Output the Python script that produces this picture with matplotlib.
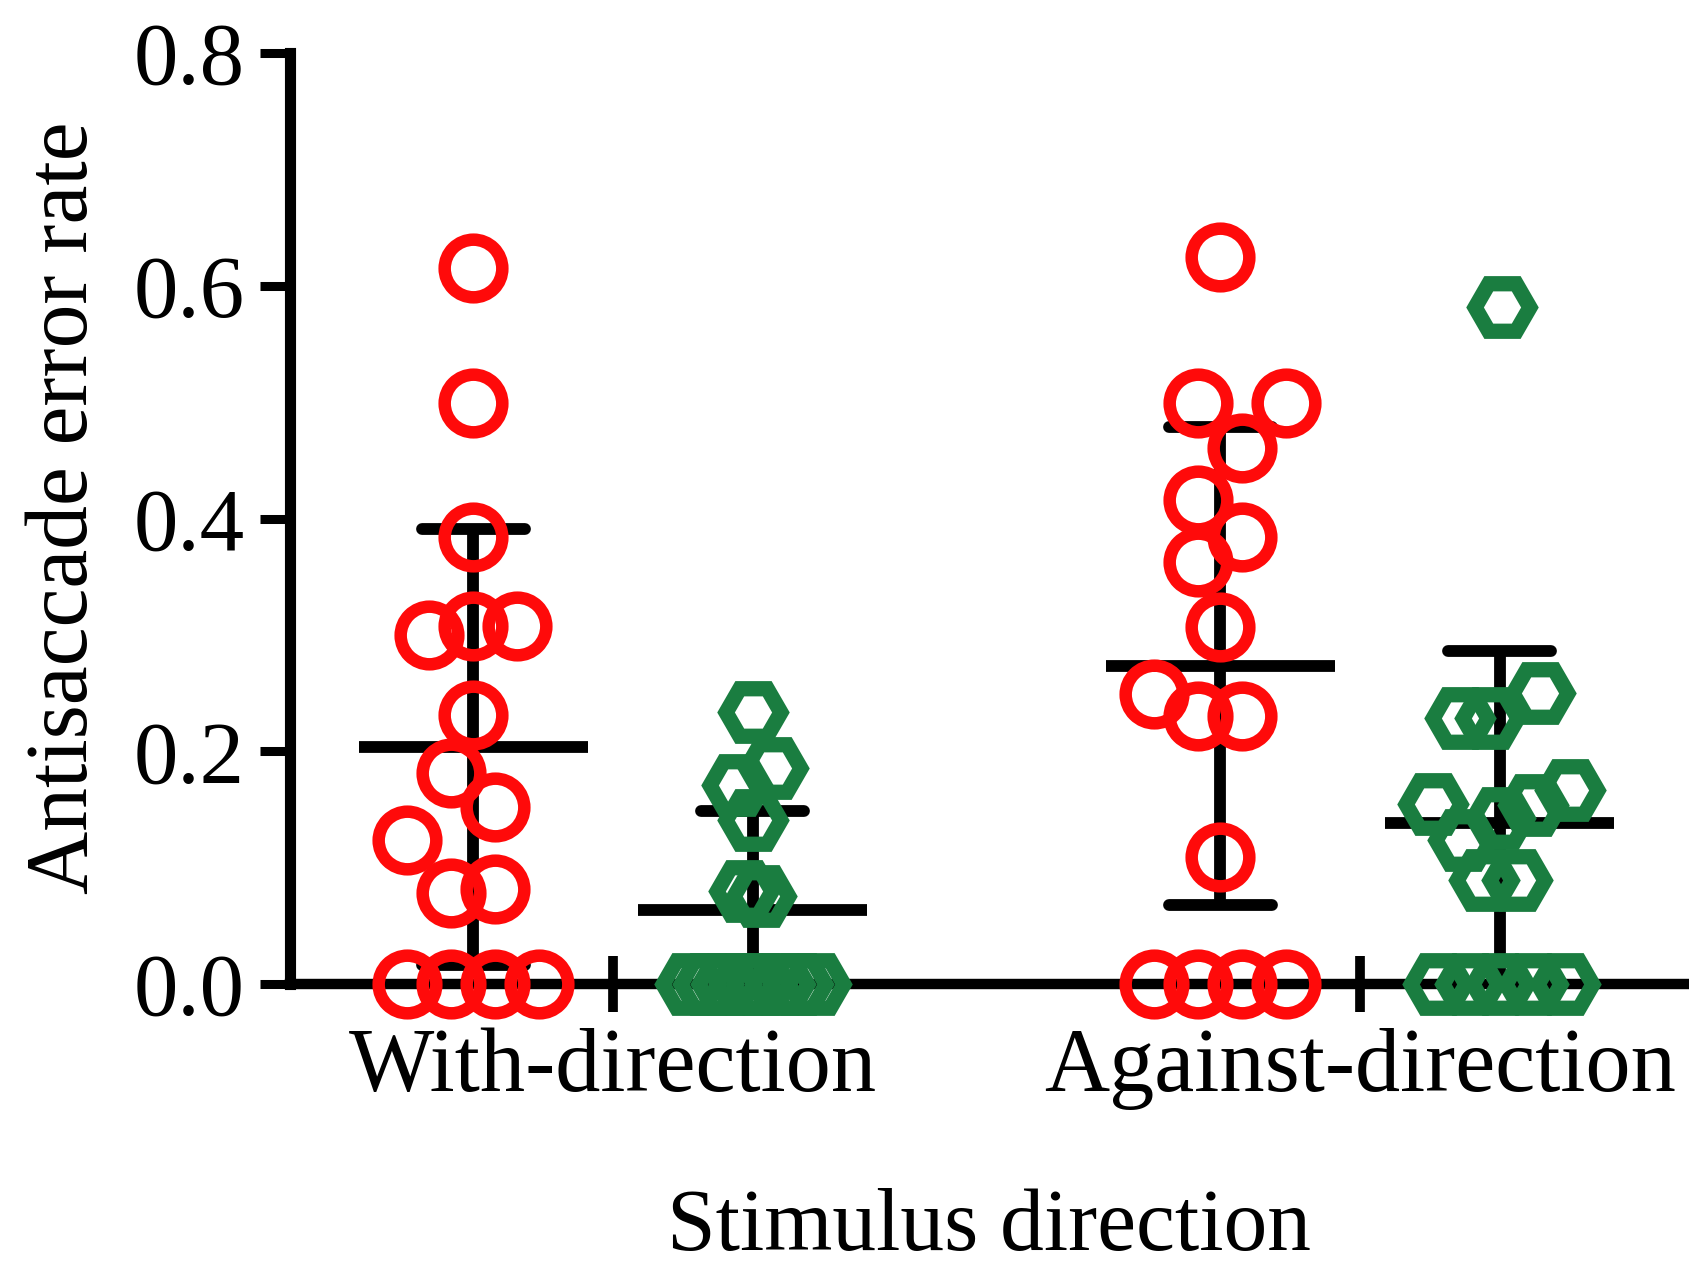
import numpy as np
import matplotlib
matplotlib.use("Agg")
import matplotlib.pyplot as plt
from matplotlib.ticker import FormatStrFormatter

plt.rcParams['font.family'] = ['Liberation Serif', 'DejaVu Serif']

# categories and group values
categories = ['With-direction', 'Against-direction']

red_with = [0.615, 0.499, 0.384, 0.300, 0.308, 0.308, 0.231, 0.181,
            0.152, 0.124, 0.078, 0.082, 0.0, 0.0, 0.0, 0.0]
red_against = [0.625, 0.499, 0.499, 0.461, 0.416, 0.384, 0.363, 0.307,
               0.249, 0.230, 0.230, 0.109, 0.0, 0.0, 0.0, 0.0]
green_with = [0.234, 0.186, 0.171, 0.141, 0.080, 0.076,
              0.0, 0.0, 0.0, 0.0, 0.0, 0.0, 0.0, 0.0]
green_against = [0.582, 0.250, 0.229, 0.229, 0.167, 0.155, 0.154, 0.143,
                 0.124, 0.089, 0.089, 0.0, 0.0, 0.0, 0.0, 0.0]

# scatter spread of the points inside each column (in point-widths)
red_with_jit = [0, 0, 0, -1, 0, 1, 0, -0.5, 0.5, -1.5, -0.5, 0.5, -1.5, -0.5, 0.5, 1.5]
red_against_jit = [0, -0.5, 1.5, 0.5, -0.5, 0.5, -0.5, 0, -1.5, -0.5, 0.5, 0,
                   -1.5, -0.5, 0.5, 1.5]
green_with_jit = [0, 0.45, -0.36, 0, -0.2, 0.2,
                  -1.43, -1.02, -0.61, -0.2, 0.2, 0.61, 1.02, 1.43]
green_against_jit = [0.05, 0.91, -0.91, -0.23, 1.59, -1.52, 0.75, 0, -0.84, -0.36, 0.39,
                     -1.41, -0.68, 0.0, 0.75, 1.48]

RED = '#ff0a0a'
GREEN = '#1a7d40'
offset = 0.187
step = 0.059

fig = plt.figure(figsize=(16.9, 12.76), dpi=100)
ax = fig.add_axes([0.1716, 0.2288, 0.8284, 0.7297])

groups = [
    (1 - offset, red_with, red_with_jit, 'o', RED, 41.5, 9),
    (1 + offset, green_with, green_with_jit, 'H', GREEN, 39.5, 11),
    (2 - offset, red_against, red_against_jit, 'o', RED, 41.5, 9),
    (2 + offset, green_against, green_against_jit, 'H', GREEN, 39.5, 11),
]

for xc, vals, jit, mk, col, ms, mew in groups:
    vals = np.array(vals)
    m = vals.mean()
    sd = vals.std(ddof=1)
    lo = max(0.0, m - sd)
    hi = m + sd
    ax.plot([xc - 0.153, xc + 0.153], [m, m], color='black', lw=8.5,
            solid_capstyle='butt', zorder=3)
    ax.plot([xc, xc], [lo, hi], color='black', lw=8.5,
            solid_capstyle='butt', zorder=3)
    ax.plot([xc - 0.069, xc + 0.069], [hi, hi], color='black', lw=8.5,
            solid_capstyle='round', zorder=3)
    if m - sd > 0:
        ax.plot([xc - 0.069, xc + 0.069], [lo, lo], color='black', lw=8.5,
                solid_capstyle='round', zorder=3)
    xs = xc + np.array(jit) * step
    ax.plot(xs, vals, linestyle='none', marker=mk, markersize=ms,
            markerfacecolor='none', markeredgecolor=col, markeredgewidth=mew,
            clip_on=False, zorder=5)

ax.set_xlim(0.5676, 2.4418)
ax.set_ylim(0, 0.8)

for s in ['top', 'right']:
    ax.spines[s].set_visible(False)
ax.spines['left'].set_bounds(0, 0.8)
ax.spines['left'].set_linewidth(8)
ax.spines['bottom'].set_linewidth(7.5)

ax.set_xticks([1, 2])
ax.set_xticklabels(categories)
ax.set_yticks([0, 0.2, 0.4, 0.6, 0.8])
ax.yaxis.set_major_formatter(FormatStrFormatter('%.1f'))
ax.tick_params(axis='x', direction='inout', length=40, width=7, pad=11, labelsize=65)
ax.tick_params(axis='y', direction='out', length=21.6, width=6.5, pad=11, labelsize=64)

fig.text(0.039, 0.602, 'Antisaccade error rate', rotation=90, ha='center',
         va='center', fontsize=63)
fig.text(0.585, 0.0204, 'Stimulus direction', ha='center', va='baseline', fontsize=63)

fig.savefig('out.png', dpi=100)
